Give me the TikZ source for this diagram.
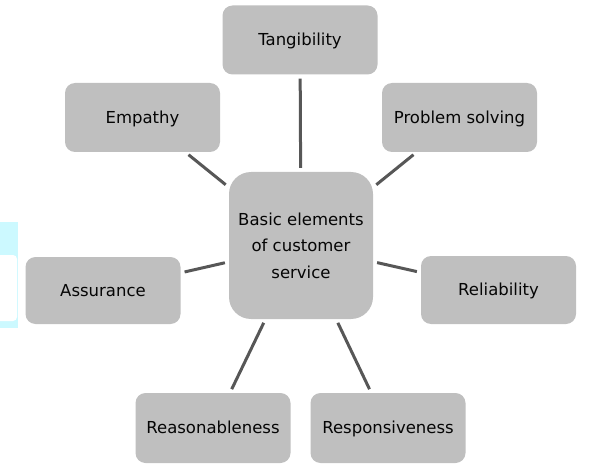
\documentclass[tikz,border=0pt]{standalone}
\usepackage{fontspec}
\setmainfont{DejaVu Sans}
\definecolor{boxfill}{HTML}{BFBFBF}
\definecolor{linecol}{HTML}{575757}
\definecolor{txt}{HTML}{050505}
\definecolor{cyanart}{HTML}{CCF9FF}
\begin{document}
\begin{tikzpicture}[x=1pt,y=-1pt,
  item/.style={draw=none,fill=boxfill,rounded corners=10pt,minimum width=155pt,minimum height=69pt,
    inner sep=0pt,text=txt,font=\fontsize{16.5}{26.5}\selectfont,text height=11.5pt,text depth=0pt},
  hub/.style={draw=none,fill=boxfill,rounded corners=22pt,minimum width=144pt,minimum height=147pt,
    inner sep=0pt,align=center,text=txt,font=\fontsize{16.5}{26.5}\selectfont},
  conn/.style={draw=linecol,line width=3pt,shorten >=4pt,shorten <=4pt}]
\useasboundingbox (0,0) rectangle (608,468);
% cyan artifact at left edge
\fill[cyanart] (0,222) rectangle (18,328);
\fill[white,rounded corners=4pt] (-6,255) rectangle (17,321);
% nodes
\node[hub]  (c)   at (301,245.5) {Basic elements\\of customer\\service};
\node[item] (tan) at (300,40)    {Tangibility};
\node[item] (emp) at (142.5,117.5) {Empathy};
\node[item] (ps)  at (459.5,117.5) {Problem solving};
\node[item,minimum height=67pt] (ass) at (103,290.5) {Assurance};
\node[item,minimum height=68pt] (rel) at (498.5,290) {Reliability};
\node[item,minimum height=70pt] (rea) at (213,428) {Reasonableness};
\node[item,minimum height=70pt] (res) at (388,428) {Responsiveness};
% connectors
\draw[conn] (tan) -- (c);
\draw[conn] (emp) -- (c);
\draw[conn] (ps)  -- (c);
\draw[conn] (ass) -- (c);
\draw[conn] (rel) -- (c);
\draw[conn] (rea) -- (c);
\draw[conn] (res) -- (c);
\end{tikzpicture}
\end{document}
